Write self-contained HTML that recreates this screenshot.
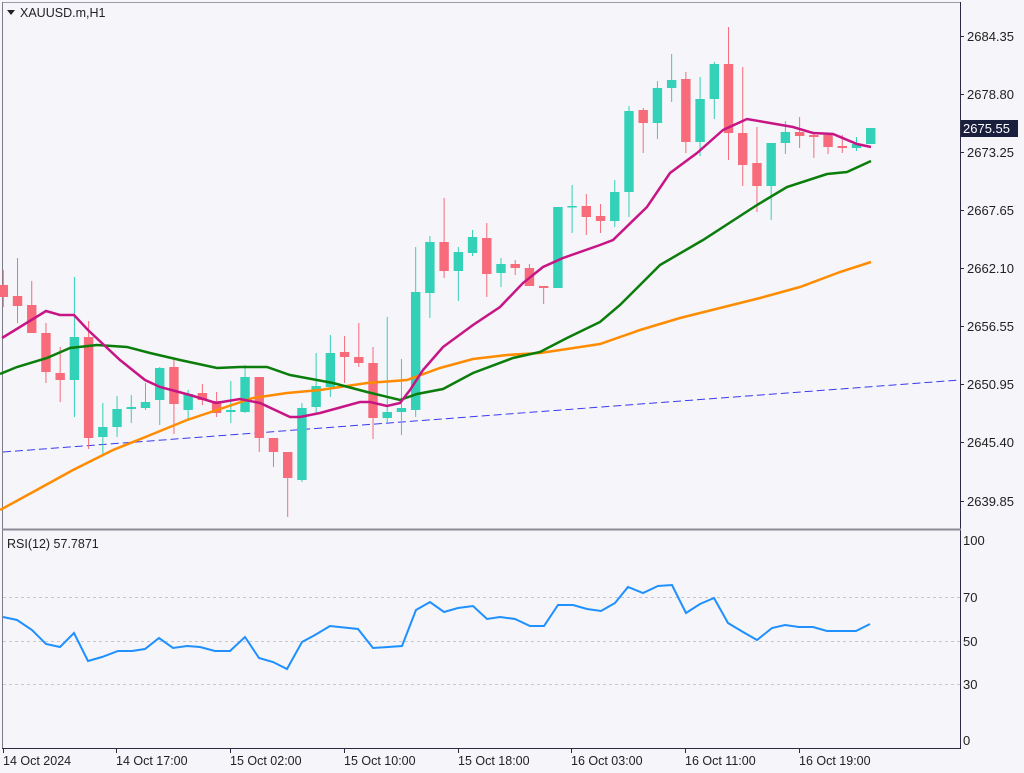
<!DOCTYPE html>
<html><head><meta charset="utf-8"><style>
html,body{margin:0;padding:0;background:#f5f5fa;}
svg{display:block;font-family:"Liberation Sans",sans-serif;}
</style></head><body>
<svg id="s" width="1024" height="773" viewBox="0 0 1024 773" xmlns="http://www.w3.org/2000/svg">
<rect width="1024" height="773" fill="#f5f5fa"/>
<line x1="2" y1="2.5" x2="961" y2="2.5" stroke="#9a9aa6" stroke-width="1"/>
<line x1="2.5" y1="2" x2="2.5" y2="749" stroke="#7a7a86" stroke-width="1"/>
<line x1="960.5" y1="2" x2="960.5" y2="749" stroke="#2a2a44" stroke-width="1"/>
<line x1="2" y1="529.5" x2="961" y2="529.5" stroke="#8a8a96" stroke-width="2"/>
<line x1="2" y1="748.5" x2="961" y2="748.5" stroke="#2a2a44" stroke-width="1"/>
<g stroke="#c8c8cc" stroke-dasharray="3,3" stroke-width="1">
<line x1="3" y1="597.5" x2="960" y2="597.5"/>
<line x1="3" y1="641.5" x2="960" y2="641.5"/>
<line x1="3" y1="684.5" x2="960" y2="684.5"/>
</g>
<line x1="3" y1="452" x2="960" y2="380" stroke="#3a3af0" stroke-width="1" stroke-dasharray="8,4"/>
<g id="c"></g>
<polyline fill="none" stroke="#ff8c00" stroke-width="2.5" points="0,510 33,492 73,470 113,450 143,438 187,420 217,410 253,398 287,393 320,390 367,383 407,380 440,368 473,359 507,355 540,353 567,349 600,344 640,330 680,318 720,308 760,298 800,287 840,272 871,262"/>
<polyline fill="none" stroke="#0a7d0a" stroke-width="2.5" points="0,374 17,367 47,358 70,348 97,345 127,347 150,353 180,360 217,368 240,367 267,367 290,375 333,383 367,392 400,400 417,394 443,389 473,373 513,358 540,352 567,338 600,322 620,305 660,265 703,240 757,205 787,187 827,174 847,172 871,161"/>
<polyline fill="none" stroke="#c71585" stroke-width="2.5" points="2,338 46,311 60,315 74,315 88,330 120,360 145,380 160,387 190,395 216,403 240,399 260,403 290,417 300,417 320,413 360,402 370,402 387,406 400,403 410,390 423,370 443,347 473,325 500,307 523,283 543,267 563,258 600,245 613,240 647,207 670,173 697,153 723,130 747,119 770,123 793,127 813,133 833,134 857,144 871,147"/>
<polyline fill="none" stroke="#1e90ff" stroke-width="2" points="3,617 17,620 32,630 46,644 60,647 74,633 88,661 102,657 118,651 132,651 145,649 159,638 173,648 187,646 200,647 215,651 230,651 245,637 259,658 273,662 287,669 302,642 315,635 330,626 358,629 373,648 402,646 416,610 430,602 444,612 458,608 473,606 487,619 500,617 515,619 530,626 544,626 558,605 573,605 587,609 601,611 615,603 628,587 643,593 658,586 672,585 686,613 700,604 714,598 728,623 743,632 757,640 772,628 785,625 799,627 813,627 827,631 842,631 856,631 870,624"/>
<polygon points="7,10 15,10 11,15" fill="#222"/>
<text x="20" y="17" font-size="12.5" fill="#222">XAUUSD.m,H1</text>
<text x="7" y="548" font-size="12.5" fill="#222">RSI(12) 57.7871</text>
<g font-size="13" fill="#222" stroke="none">
<text x="967" y="41">2684.35</text>
<text x="967" y="99">2678.80</text>
<text x="967" y="157">2673.25</text>
<text x="967" y="215">2667.65</text>
<text x="967" y="273">2662.10</text>
<text x="967" y="331">2656.55</text>
<text x="967" y="389">2650.95</text>
<text x="967" y="447">2645.40</text>
<text x="967" y="506">2639.85</text>
<text x="963" y="545">100</text>
<text x="963" y="602">70</text>
<text x="963" y="646">50</text>
<text x="963" y="689">30</text>
<text x="963" y="745">0</text>
</g>
<g stroke="#2a2a44" stroke-width="1">
<line x1="960" y1="36.5" x2="964" y2="36.5"/><line x1="960" y1="94.5" x2="964" y2="94.5"/>
<line x1="960" y1="152.5" x2="964" y2="152.5"/><line x1="960" y1="210.5" x2="964" y2="210.5"/>
<line x1="960" y1="268.5" x2="964" y2="268.5"/><line x1="960" y1="326.5" x2="964" y2="326.5"/>
<line x1="960" y1="384.5" x2="964" y2="384.5"/><line x1="960" y1="442.5" x2="964" y2="442.5"/>
<line x1="960" y1="501.5" x2="964" y2="501.5"/>
<line x1="3.5" y1="749" x2="3.5" y2="753"/><line x1="116.5" y1="749" x2="116.5" y2="753"/>
<line x1="230.5" y1="749" x2="230.5" y2="753"/><line x1="344.5" y1="749" x2="344.5" y2="753"/>
<line x1="458.5" y1="749" x2="458.5" y2="753"/><line x1="571.5" y1="749" x2="571.5" y2="753"/>
<line x1="685.5" y1="749" x2="685.5" y2="753"/><line x1="799.5" y1="749" x2="799.5" y2="753"/>
</g>
<rect x="961" y="120" width="57" height="17" fill="#1a1f3d"/>
<text x="963" y="133" font-size="13" fill="#fff">2675.55</text>
<g font-size="12.5" fill="#222">
<text x="3" y="765">14 Oct 2024</text>
<text x="116" y="765">14 Oct 17:00</text>
<text x="230" y="765">15 Oct 02:00</text>
<text x="344" y="765">15 Oct 10:00</text>
<text x="458" y="765">15 Oct 18:00</text>
<text x="571" y="765">16 Oct 03:00</text>
<text x="685" y="765">16 Oct 11:00</text>
<text x="799" y="765">16 Oct 19:00</text>
</g>
</svg>
<script>
var d=[[0,285,297,270,307],[0,296,306,258,323],[0,305,333,281,333],[0,333,372,323,383],[0,373,380,347,402],[1,337,380,277,417],[0,337,438,321,449],[1,427,437,403,455],[1,409,427,396,437],[1,407,409,395,423],[1,402,408,383,410],[1,368,400,367,425],[0,367,404,360,434],[1,394,410,390,421],[0,393,400,384,405],[0,401,413,392,417],[1,410,412,381,423],[1,377,412,365,413],[0,377,438,377,452],[0,438,452,438,467],[0,452,478,452,517],[1,408,480,403,482],[1,386,407,353,413],[1,353,387,335,397],[0,352,357,336,383],[0,357,363,323,367],[0,363,418,347,439],[1,412,418,317,423],[1,408,412,359,435],[1,292,410,247,417],[1,242,293,236,318],[0,242,271,198,278],[1,252,271,247,301],[1,237,253,230,256],[0,238,274,223,297],[1,264,273,258,287],[0,264,268,260,275],[0,268,286,264,286],[0,286,288,286,304],[1,207,288,207,288],[1,206,207,185,233],[0,206,217,194,235],[0,216,221,204,233],[1,192,221,180,227],[1,111,192,106,217],[0,110,123,108,153],[1,88,123,81,139],[1,80,88,54,102],[0,79,142,72,153],[1,99,142,77,156],[1,64,99,62,119],[0,64,133,27,160],[0,133,165,67,186],[0,163,186,127,212],[1,143,186,143,220],[1,132,143,121,154],[0,132,136,117,148],[0,135,137,132,158],[0,135,147,135,154],[0,146,148,135,153],[1,144,148,137,151],[1,128,144,128,144]];
var g=document.getElementById('c'),h='';
for(var i=0;i<d.length;i++){var c=d[i],x=3.3+i*14.22,col=c[0]?'#33d1b7':'#f76b7b';
h+='<line x1="'+x+'" y1="'+c[3]+'" x2="'+x+'" y2="'+c[4]+'" stroke="'+col+'" stroke-width="1"/>';
h+='<rect x="'+(x-4.7)+'" y="'+c[1]+'" width="9.4" height="'+Math.max(1.5,c[2]-c[1])+'" fill="'+col+'"/>';}
g.innerHTML=h;
</script>
</body></html>
